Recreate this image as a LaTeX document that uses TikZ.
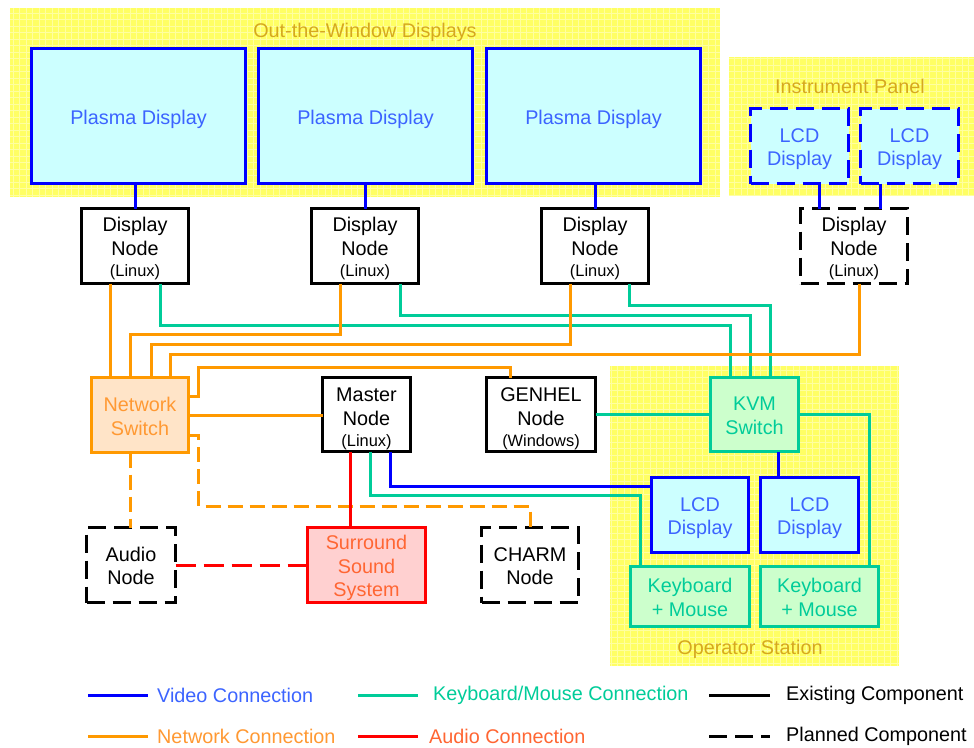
\documentclass[tikz,border=0pt]{standalone}
\usepackage{fontspec}
\setmainfont{Liberation Sans}
\newcommand{\fsmain}{\fontsize{19.8pt}{23.7pt}\selectfont}
\newcommand{\fssmall}{\fontsize{16.4pt}{19pt}\selectfont}
% strut on a box's first line: lowers the centred text block by #1 pt
\newcommand{\capstrut}[1]{\rule{0pt}{\dimexpr 14.2pt + 2\dimexpr #1pt\relax\relax}}

\definecolor{vidblue}{RGB}{0,0,255}
\definecolor{vidtext}{RGB}{60,100,255}
\definecolor{kmgreen}{RGB}{0,204,153}
\definecolor{netorange}{RGB}{255,153,0}
\definecolor{nettext}{RGB}{255,153,51}
\definecolor{audred}{RGB}{255,0,0}
\definecolor{audtext}{RGB}{255,102,51}
\definecolor{areatitle}{RGB}{214,168,30}
\definecolor{areafill}{RGB}{255,255,100}
\definecolor{areagrid}{RGB}{255,255,160}
\definecolor{dispfill}{RGB}{204,255,255}
\definecolor{kmfill}{RGB}{204,255,204}
\definecolor{netfill}{RGB}{255,228,200}
\definecolor{audfill}{RGB}{255,208,208}

\tikzset{
  box/.style={rectangle, draw, line width=3pt, inner sep=0pt, outer sep=0pt,
    align=center, font=\fsmain},
  planned/.style={dash pattern=on 18pt off 8pt},
  display/.style={box, draw=vidblue, fill=dispfill, text=vidtext},
  computer/.style={box, draw=black, fill=white, text=black},
  kmbox/.style={box, draw=kmgreen, fill=kmfill, text=kmgreen},
  netbox/.style={box, draw=netorange, fill=netfill, text=nettext},
  audbox/.style={box, draw=audred, fill=audfill, text=audtext},
  wire/.style={line width=3pt},
  video/.style={wire, draw=vidblue},
  km/.style={wire, draw=kmgreen},
  net/.style={wire, draw=netorange},
  aud/.style={wire, draw=audred},
  plannedwire/.style={dash pattern=on 15pt off 7pt},
  areatext/.style={font=\fsmain, text=areatitle, inner sep=0pt},
  legtext/.style={font=\fsmain, anchor=west, inner sep=0pt},
}

% textured yellow area: #1 lower-left, #2 upper-right (canvas order)
\newcommand{\grouparea}[2]{%
  \begin{scope}
    \clip #1 rectangle #2;
    \fill[areafill] #1 rectangle #2;
    \draw[areagrid, line width=0.6pt, step=6.5pt] #1 grid #2;
  \end{scope}}

\begin{document}
\begin{tikzpicture}[x=1pt, y=-1pt]
\useasboundingbox (0,0) rectangle (974,747);
\fill[white] (0,0) rectangle (974,747);

% ---- group areas ----
\grouparea{(10,197)}{(720,8)}
\grouparea{(729,196)}{(974,57)}
\grouparea{(610,666)}{(899,366)}
\node[areatext] (otwtitle) at (365,32) {Out-the-Window Displays};
\node[areatext] (iptitle) at (850,86) {Instrument Panel};
\node[areatext] (optitle) at (750,649) {Operator Station};

% ---- out-the-window displays ----
\node[display, minimum width=214pt, minimum height=135pt] (p1) at (138.5,116) {\capstrut{3}Plasma Display};
\node[display, minimum width=214pt, minimum height=135pt] (p2) at (365.5,116) {\capstrut{3}Plasma Display};
\node[display, minimum width=214pt, minimum height=135pt] (p3) at (593.5,116) {\capstrut{3}Plasma Display};

% ---- instrument panel ----
\node[display, planned, minimum width=98pt, minimum height=75pt] (lcdi1) at (799.5,146) {\capstrut{3}LCD\\Display};
\node[display, planned, minimum width=98pt, minimum height=75pt] (lcdi2) at (909.5,146) {\capstrut{3}LCD\\Display};

% ---- display nodes ----
\node[computer, minimum width=107pt, minimum height=75pt] (dn1) at (135,246) {\capstrut{3}Display\\Node\\[-2.5pt]{\fssmall (Linux)}};
\node[computer, minimum width=107pt, minimum height=75pt] (dn2) at (365,246) {\capstrut{3}Display\\Node\\[-2.5pt]{\fssmall (Linux)}};
\node[computer, minimum width=107pt, minimum height=75pt] (dn3) at (595,246) {\capstrut{3}Display\\Node\\[-2.5pt]{\fssmall (Linux)}};
\node[computer, planned, minimum width=107pt, minimum height=75pt] (dn4) at (854,246) {\capstrut{3}Display\\Node\\[-2.5pt]{\fssmall (Linux)}};

% ---- middle row ----
\node[netbox, minimum width=97pt, minimum height=75pt] (ns) at (140,415) {\capstrut{1.5}Network\\Switch};
\node[computer, minimum width=88pt, minimum height=74pt] (master) at (366.5,414.5) {\capstrut{4}Master\\Node\\[-2.5pt]{\fssmall (Linux)}};
\node[computer, minimum width=109pt, minimum height=74pt] (gen) at (541,414.5) {\capstrut{4}GENHEL\\Node\\[-2.5pt]{\fssmall (Windows)}};
\node[kmbox, minimum width=88pt, minimum height=74pt] (kvm) at (754.5,414.5) {\capstrut{1}KVM\\Switch};

% ---- operator station ----
\node[display, minimum width=97pt, minimum height=75pt] (lcdo1) at (700,515) {\capstrut{3}LCD\\Display};
\node[display, minimum width=98pt, minimum height=75pt] (lcdo2) at (809.5,515) {\capstrut{3}LCD\\Display};
\node[kmbox, minimum width=119pt, minimum height=60pt] (kb1) at (690,596.5) {\capstrut{1}Keyboard\\+ Mouse};
\node[kmbox, minimum width=118pt, minimum height=60pt] (kb2) at (819.5,596.5) {\capstrut{1}Keyboard\\+ Mouse};

% ---- bottom row ----
\node[computer, planned, minimum width=89pt, minimum height=75pt] (audio) at (131,565) {\capstrut{1}Audio\\Node};
\node[audbox, minimum width=118pt, minimum height=75pt] (sur) at (366.5,565) {\capstrut{3}Surround\\Sound\\System};
\node[computer, planned, minimum width=97pt, minimum height=75pt] (charm) at (530,565) {\capstrut{1}CHARM\\Node};

% ---- video connections ----
\draw[video] (p1.south -| dn1.north) -- (dn1.north);
\draw[video] (p2.south -| dn2.north) -- (dn2.north);
\draw[video] (p3.south -| dn3.north) -- (dn3.north);
\draw[video] ([xshift=19.5pt]lcdi1.south) -- ([xshift=-35pt]dn4.north);
\draw[video] ([xshift=-29.5pt]lcdi2.south) -- ([xshift=26pt]dn4.north);
\draw[video] ([xshift=23.5pt]master.south) |- ([yshift=29pt]lcdo1.west);
\draw[video] ([xshift=23.5pt]kvm.south) -- ([xshift=-31.5pt]lcdo2.north);

% ---- keyboard/mouse connections ----
\draw[km] ([xshift=25pt]dn1.south) -- ++(0,42) -| ([xshift=-24.5pt]kvm.north);
\draw[km] ([xshift=35pt]dn2.south) -- ++(0,32) -| ([xshift=-4.5pt]kvm.north);
\draw[km] ([xshift=34pt]dn3.south) -- ++(0,22) -| ([xshift=15.5pt]kvm.north);
\draw[km] (gen.east) -- (kvm.west);
\draw[km] (kvm.east) -| ([xshift=49.5pt]kb2.north);
\draw[km] ([xshift=3.5pt]master.south) -- ++(0,43.5) -| ([xshift=-50pt]kb1.north);

% ---- network connections ----
\draw[net] ([xshift=-25pt]dn1.south) -- ([xshift=-30pt]ns.north);
\draw[net] ([xshift=-25pt]dn2.south) -- ++(0,51) -| ([xshift=-10pt]ns.north);
\draw[net] ([xshift=-25pt]dn3.south) -- ++(0,61) -| ([xshift=11pt]ns.north);
\draw[net] ([xshift=5pt]dn4.south) -- ++(0,71) -| ([xshift=30pt]ns.north);
\draw[net] ([yshift=19pt]ns.east) -- ++(10,0) -- ++(0,-29) -| ([xshift=-31pt]gen.north);
\draw[net] (ns.east) -- (ns.east -| master.west);
\draw[net, plannedwire] ([yshift=-20pt]ns.east) -- ++(10,0) -- ++(0,71) -| (charm.north);
\draw[net, plannedwire] ([xshift=-10pt]ns.south) -- ([xshift=-1pt]audio.north);

% ---- audio connections ----
\draw[aud] ([xshift=-16.5pt]master.south) -- ([xshift=-16.5pt]sur.north);
\draw[aud, dash pattern=on 20pt off 8pt] (audio.east) -- (sur.west);

% ---- legend ----
\coordinate (lv1) at (88,695);  \coordinate (lv2) at (148,695);
\coordinate (ln1) at (88,736);  \coordinate (ln2) at (148,736);
\coordinate (lk1) at (358,695); \coordinate (lk2) at (418,695);
\coordinate (la1) at (358,736); \coordinate (la2) at (418,736);
\coordinate (le1) at (709,695); \coordinate (le2) at (770,695);
\coordinate (lp1) at (709,736); \coordinate (lp2) at (770,736);
\draw[video] (lv1) -- (lv2);
\draw[net] (ln1) -- (ln2);
\draw[km] (lk1) -- (lk2);
\draw[aud] (la1) -- (la2);
\draw[wire] (le1) -- (le2);
\draw[wire, dash pattern=on 18pt off 8pt] (lp1) -- (lp2);
\node[legtext, text=vidtext] (legvid) at (157,695) {Video Connection};
\node[legtext, text=nettext] (legnet) at (157,736) {Network Connection};
\node[legtext, text=kmgreen] (legkm) at (433,695) {Keyboard/Mouse Connection};
\node[legtext, text=audtext] (legaud) at (429,736) {Audio Connection};
\node[legtext, text=black] (legex) at (786,695) {Existing Component};
\node[legtext, text=black] (legpl) at (786,736) {Planned Component};
\end{tikzpicture}
\end{document}
